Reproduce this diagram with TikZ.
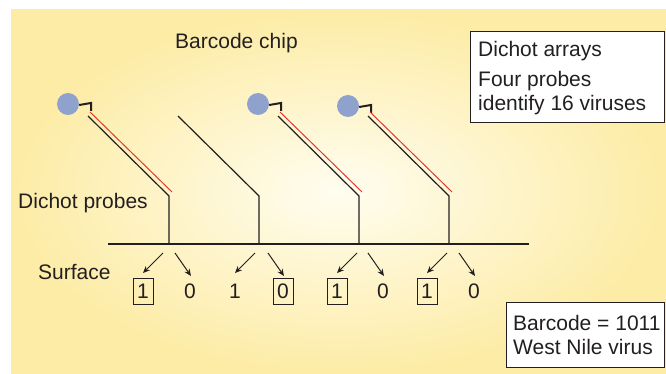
\documentclass[tikz,border=0pt]{standalone}
\usepackage{fontspec}
\setmainfont{Liberation Sans}
\usetikzlibrary{arrows.meta}
\definecolor{txt}{HTML}{231F20}
\definecolor{beadc}{HTML}{8FA2CD}
\definecolor{redline}{HTML}{E03A2F}
\definecolor{bgin}{RGB}{255,253,240}
\definecolor{bgout}{RGB}{253,236,166}
\begin{document}
\begin{tikzpicture}[x=1pt,y=-1pt,
  font=\fontsize{21}{25}\selectfont,
  lbl/.style={anchor=base west, inner sep=0pt, text=txt},
  bit/.style={inner sep=0pt, minimum width=20pt, minimum height=26pt, text=txt},
  bitbox/.style={bit, draw=txt, line width=0.9pt},
  infobox/.style={draw=txt, line width=1.1pt, fill=white, anchor=north west, inner sep=0pt},
  bead/.style={circle, fill=beadc, minimum size=22pt, inner sep=0pt},
  hook/.style={line width=2pt, draw=txt},
  strand/.style={line width=1.2pt, draw=txt},
  rstrand/.style={line width=1pt, draw=redline},
  surf/.style={line width=2.2pt, draw=txt},
  arr/.style={-{Stealth[length=7pt,width=6pt]}, line width=1pt, draw=txt}]
\useasboundingbox (0,0) rectangle (666,374);
\shade[inner color=bgin, outer color=bgout] (11,10) rectangle (666,374);

% labels
\node[lbl] (chip) at (175,49) {Barcode chip};
\node[lbl] (probes) at (18,208) {Dichot probes};
\node[lbl] (surface) at (38,279) {Surface};

% info boxes
\node[infobox, minimum width=194pt, minimum height=91pt] (arrbox) at (470,31) {};
\node[lbl] (arr1) at (478,57) {Dichot arrays};
\node[lbl] (arr2) at (478,87) {Four probes};
\node[lbl] (arr3) at (478,111) {identify 16 viruses};
\node[infobox, minimum width=158pt, minimum height=65pt] (bcbox) at (506,302) {};
\node[lbl] (bc1) at (513,330) {Barcode = 1011};
\node[lbl] (bc2) at (513,354) {West Nile virus};

% surface
\coordinate (sl) at (108,244);
\coordinate (sr) at (529,244);
\draw[surf] (sl) -- (sr);

% probes
\foreach \vx/\hasbead/\by in {169/1/104, 259/0/104, 359/1/104, 449/1/106} {
  \coordinate (top\vx) at (\vx-81,116);
  \coordinate (bend\vx) at (\vx,196);
  \coordinate (foot\vx) at (\vx,244);
  \draw[strand] (top\vx) -- (bend\vx) -- (foot\vx);
  \ifnum\hasbead=1
    \node[bead] (bead\vx) at (\vx-101,\by) {};
    \coordinate (hk\vx) at (\vx-78,\by-1);
    \draw[hook] ([yshift=-1pt]bead\vx.east) -- (hk\vx) -- ++(0,8);
    \coordinate (rtop\vx) at (\vx-79,112);
    \coordinate (rend\vx) at (\vx+3,192);
    \draw[rstrand] (rtop\vx) -- (rend\vx);
  \fi
}

% bits
\node[bitbox] (b1) at (143,291) {1};
\node[bit]    (b2) at (190,291) {0};
\node[bit]    (b3) at (235,291) {1};
\node[bitbox] (b4) at (283,291) {0};
\node[bitbox] (b5) at (337,291) {1};
\node[bit]    (b6) at (383,291) {0};
\node[bitbox] (b7) at (427,291) {1};
\node[bit]    (b8) at (474,291) {0};

% arrows
\foreach \a/\b in {b1/b2, b3/b4, b5/b6, b7/b8} {
  \path (\a.center) ++(20,-38) coordinate (\a s);
  \path (\a.center) ++(0,-18) coordinate (\a e);
  \path (\b.center) ++(-15,-38) coordinate (\b s);
  \path (\b.center) ++(1,-15) coordinate (\b e);
  \draw[arr] (\a s) -- (\a e);
  \draw[arr] (\b s) -- (\b e);
}
\end{tikzpicture}
\end{document}
